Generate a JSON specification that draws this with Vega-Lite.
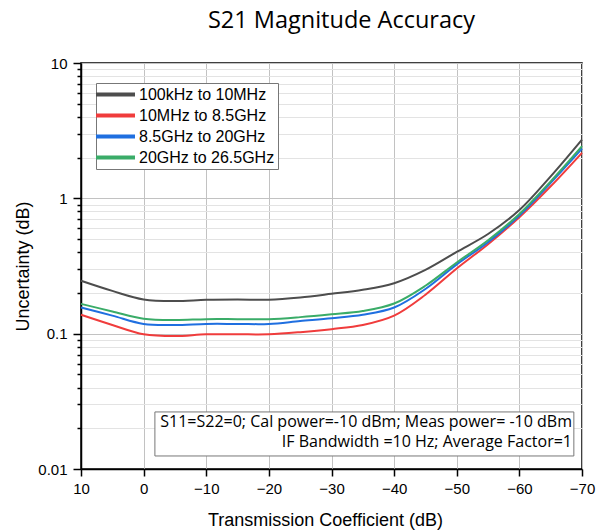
{
  "$schema": "https://vega.github.io/schema/vega-lite/v6.json",
  "width": 501,
  "height": 406,
  "autosize": {"type": "none"},
  "padding": {"left": 81, "top": 63, "right": 17, "bottom": 61},
  "background": "white",
  "title": {"text": "S21 Magnitude Accuracy", "font": "Open Sans", "fontSize": 23.5, "fontWeight": "normal", "color": "#000", "anchor": "middle", "offset": 24, "dx": 10},
  "config": {
    "view": {"stroke": "#000", "strokeWidth": 1.5},
    "axis": {"domainColor": "#000", "domainWidth": 1.5, "tickColor": "#000", "tickWidth": 1.5, "labelFont": "Liberation Sans", "labelFontSize": 15, "labelColor": "#000", "titleFont": "Liberation Sans", "titleFontSize": 18, "titleFontWeight": "normal", "titleColor": "#000", "gridWidth": 1}
  },
  "data": {"values": [
    {"x": 10, "s": "100kHz to 10MHz", "v": 0.246}, {"x": 5, "s": "100kHz to 10MHz", "v": 0.207}, {"x": 0, "s": "100kHz to 10MHz", "v": 0.179}, {"x": -5, "s": "100kHz to 10MHz", "v": 0.174}, {"x": -10, "s": "100kHz to 10MHz", "v": 0.178}, {"x": -15, "s": "100kHz to 10MHz", "v": 0.179}, {"x": -20, "s": "100kHz to 10MHz", "v": 0.178}, {"x": -25, "s": "100kHz to 10MHz", "v": 0.185}, {"x": -30, "s": "100kHz to 10MHz", "v": 0.197}, {"x": -35, "s": "100kHz to 10MHz", "v": 0.211}, {"x": -40, "s": "100kHz to 10MHz", "v": 0.236}, {"x": -45, "s": "100kHz to 10MHz", "v": 0.296}, {"x": -50, "s": "100kHz to 10MHz", "v": 0.402}, {"x": -55, "s": "100kHz to 10MHz", "v": 0.545}, {"x": -60, "s": "100kHz to 10MHz", "v": 0.82}, {"x": -65, "s": "100kHz to 10MHz", "v": 1.455}, {"x": -70, "s": "100kHz to 10MHz", "v": 2.72},
    {"x": 10, "s": "10MHz to 8.5GHz", "v": 0.138}, {"x": 5, "s": "10MHz to 8.5GHz", "v": 0.116}, {"x": 0, "s": "10MHz to 8.5GHz", "v": 0.099}, {"x": -5, "s": "10MHz to 8.5GHz", "v": 0.096}, {"x": -10, "s": "10MHz to 8.5GHz", "v": 0.099}, {"x": -15, "s": "10MHz to 8.5GHz", "v": 0.099}, {"x": -20, "s": "10MHz to 8.5GHz", "v": 0.099}, {"x": -25, "s": "10MHz to 8.5GHz", "v": 0.1026}, {"x": -30, "s": "10MHz to 8.5GHz", "v": 0.108}, {"x": -35, "s": "10MHz to 8.5GHz", "v": 0.116}, {"x": -40, "s": "10MHz to 8.5GHz", "v": 0.136}, {"x": -45, "s": "10MHz to 8.5GHz", "v": 0.194}, {"x": -50, "s": "10MHz to 8.5GHz", "v": 0.303}, {"x": -55, "s": "10MHz to 8.5GHz", "v": 0.458}, {"x": -60, "s": "10MHz to 8.5GHz", "v": 0.725}, {"x": -65, "s": "10MHz to 8.5GHz", "v": 1.227}, {"x": -70, "s": "10MHz to 8.5GHz", "v": 2.17},
    {"x": 10, "s": "8.5GHz to 20GHz", "v": 0.156}, {"x": 5, "s": "8.5GHz to 20GHz", "v": 0.136}, {"x": 0, "s": "8.5GHz to 20GHz", "v": 0.118}, {"x": -5, "s": "8.5GHz to 20GHz", "v": 0.116}, {"x": -10, "s": "8.5GHz to 20GHz", "v": 0.118}, {"x": -15, "s": "8.5GHz to 20GHz", "v": 0.118}, {"x": -20, "s": "8.5GHz to 20GHz", "v": 0.118}, {"x": -25, "s": "8.5GHz to 20GHz", "v": 0.124}, {"x": -30, "s": "8.5GHz to 20GHz", "v": 0.130}, {"x": -35, "s": "8.5GHz to 20GHz", "v": 0.138}, {"x": -40, "s": "8.5GHz to 20GHz", "v": 0.156}, {"x": -45, "s": "8.5GHz to 20GHz", "v": 0.214}, {"x": -50, "s": "8.5GHz to 20GHz", "v": 0.325}, {"x": -55, "s": "8.5GHz to 20GHz", "v": 0.474}, {"x": -60, "s": "8.5GHz to 20GHz", "v": 0.746}, {"x": -65, "s": "8.5GHz to 20GHz", "v": 1.30}, {"x": -70, "s": "8.5GHz to 20GHz", "v": 2.33},
    {"x": 10, "s": "20GHz to 26.5GHz", "v": 0.166}, {"x": 5, "s": "20GHz to 26.5GHz", "v": 0.146}, {"x": 0, "s": "20GHz to 26.5GHz", "v": 0.129}, {"x": -5, "s": "20GHz to 26.5GHz", "v": 0.126}, {"x": -10, "s": "20GHz to 26.5GHz", "v": 0.128}, {"x": -15, "s": "20GHz to 26.5GHz", "v": 0.128}, {"x": -20, "s": "20GHz to 26.5GHz", "v": 0.128}, {"x": -25, "s": "20GHz to 26.5GHz", "v": 0.1325}, {"x": -30, "s": "20GHz to 26.5GHz", "v": 0.139}, {"x": -35, "s": "20GHz to 26.5GHz", "v": 0.147}, {"x": -40, "s": "20GHz to 26.5GHz", "v": 0.167}, {"x": -45, "s": "20GHz to 26.5GHz", "v": 0.226}, {"x": -50, "s": "20GHz to 26.5GHz", "v": 0.336}, {"x": -55, "s": "20GHz to 26.5GHz", "v": 0.49}, {"x": -60, "s": "20GHz to 26.5GHz", "v": 0.767}, {"x": -65, "s": "20GHz to 26.5GHz", "v": 1.336}, {"x": -70, "s": "20GHz to 26.5GHz", "v": 2.43}
  ]},
  "layer": [
    {
      "mark": {"type": "line", "interpolate": "catmull-rom", "strokeWidth": 2},
      "encoding": {
        "x": {"field": "x", "type": "quantitative",
          "scale": {"domain": [-70, 10], "reverse": true, "nice": false, "zero": false},
          "axis": {"title": "Transmission Coefficient (dB)", "titlePadding": 15, "titleX": 244,
            "values": [-70, -65, -60, -55, -50, -45, -40, -35, -30, -25, -20, -15, -10, -5, 0, 5, 10],
            "labelExpr": "datum.value % 10 === 0 ? datum.label : ''",
            "tickSize": {"condition": {"test": "datum.value % 10 === 0", "value": 7}, "value": 4},
            "gridColor": {"condition": {"test": "datum.value % 10 === 0", "value": "#c2c2c2"}, "value": "#e3e3e3"},
            "labelPadding": 5, "labelFlush": false, "labelOverlap": false}},
        "y": {"field": "v", "type": "quantitative",
          "scale": {"type": "log", "domain": [0.01, 10], "nice": false},
          "axis": {"title": "Uncertainty (dB)", "titlePadding": 5,
            "values": [0.01, 0.02, 0.03, 0.04, 0.05, 0.06, 0.07, 0.08, 0.09, 0.1, 0.2, 0.3, 0.4, 0.5, 0.6, 0.7, 0.8, 0.9, 1, 2, 3, 4, 5, 6, 7, 8, 9, 10],
            "format": "~g",
            "labelExpr": "(datum.value == 0.01 || datum.value == 0.1 || datum.value == 1 || datum.value == 10) ? datum.label : ''",
            "tickSize": {"condition": {"test": "datum.value == 0.01 || datum.value == 0.1 || datum.value == 1 || datum.value == 10", "value": 8}, "value": 4},
            "gridColor": {"condition": {"test": "datum.value == 0.01 || datum.value == 0.1 || datum.value == 1 || datum.value == 10", "value": "#c2c2c2"}, "value": "#e3e3e3"},
            "labelPadding": 6, "labelOverlap": false}},
        "color": {"field": "s", "type": "nominal",
          "scale": {"domain": ["100kHz to 10MHz", "10MHz to 8.5GHz", "8.5GHz to 20GHz", "20GHz to 26.5GHz"], "range": ["#4d4d4d", "#f03c3c", "#1f6fe0", "#3aac68"]},
          "legend": {"title": null, "orient": "none", "legendX": 15, "legendY": 20,
            "fillColor": "white", "strokeColor": "#777", "padding": 3,
            "symbolType": "M-3,0H3", "symbolSize": 169, "symbolStrokeWidth": 4, "symbolOffset": 8,
            "labelFont": "Liberation Sans", "labelFontSize": 16, "labelColor": "#000", "labelOffset": 15, "rowPadding": 4}}
      }
    },
    {
      "data": {"values": [{}]},
      "mark": {"type": "rect", "fill": "white", "stroke": "#777", "strokeWidth": 1},
      "encoding": {
        "x": {"datum": -1.8, "type": "quantitative"},
        "x2": {"datum": -68.7},
        "y": {"datum": 0.0264, "type": "quantitative"},
        "y2": {"datum": 0.01248}
      }
    },
    {
      "data": {"values": [{}]},
      "mark": {"type": "text", "text": ["S11=S22=0; Cal power=-10 dBm; Meas power= -10 dBm", "IF Bandwidth =10 Hz; Average Factor=1"], "align": "right", "baseline": "middle", "lineHeight": 20, "font": "Open Sans", "fontSize": 16, "color": "#000"},
      "encoding": {
        "x": {"datum": -68.4, "type": "quantitative"},
        "y": {"datum": 0.0222, "type": "quantitative"}
      }
    }
  ]
}
